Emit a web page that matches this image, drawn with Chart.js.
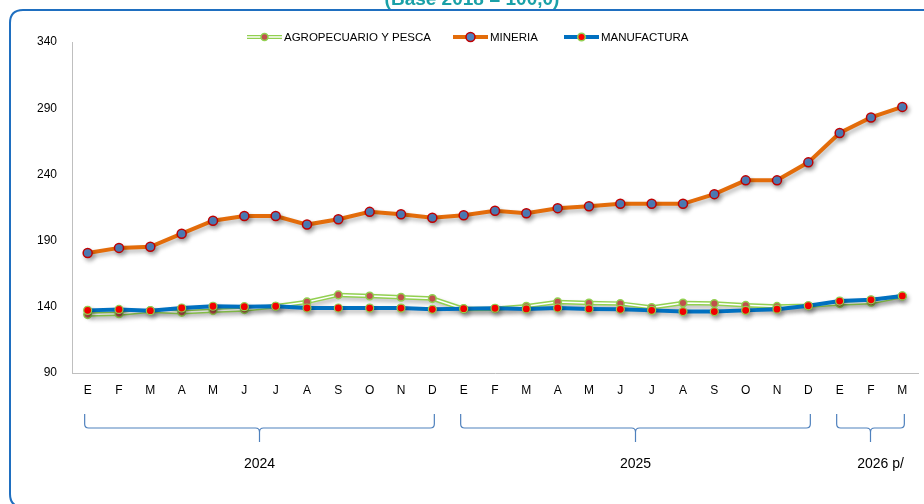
<!DOCTYPE html>
<html>
<head>
<meta charset="utf-8">
<script src="https://cdn.jsdelivr.net/npm/chart.js@4"></script>
<style>
  html, body { margin: 0; padding: 0; background: #ffffff; }
  #wrap { width: 924px; height: 504px; position: relative; }
  canvas { display: block; }
</style>
</head>
<body>
<div id="wrap"><canvas id="c" width="924" height="504"></canvas></div>
<script>
// ---- Data ----
const months = ['E','F','M','A','M','J','J','A','S','O','N','D',
                'E','F','M','A','M','J','J','A','S','O','N','D',
                'E','F','M'];
const yearLabels = ['2024', '2025', '2026 p/'];
const yearMonthCounts = [12, 12, 3];
const yTicks = [90, 140, 190, 240, 290, 340];
const titleText = '(Base 2018 = 100,0)';

const seriesNames = ['AGROPECUARIO Y PESCA', 'MINERIA', 'MANUFACTURA'];

const agropecuario = [134.1, 134.8, 137.1, 135.8, 137.1, 137.9, 140.4, 143.7, 149.0, 148.2, 147.2, 146.2,
                      138.4, 138.6, 140.4, 143.7, 142.9, 142.4, 139.5, 142.9, 142.4, 141.1, 140.3, 140.8,
                      142.4, 143.4, 148.2];
const mineria = [180.7, 184.5, 185.3, 195.2, 205.0, 208.6, 208.6, 202.1, 206.1, 211.7, 209.9, 207.2,
                 209.2, 212.5, 210.7, 214.5, 216.0, 217.8, 217.8, 217.8, 225.1, 235.5, 235.5, 249.1,
                 271.3, 283.0, 291.0];
const manufactura = [137.3, 138.0, 137.1, 139.1, 140.4, 140.1, 140.4, 139.1, 139.1, 139.0, 139.0, 138.1,
                     138.6, 138.9, 138.4, 139.1, 138.4, 138.1, 137.3, 136.4, 136.4, 137.3, 138.2, 140.8,
                     144.3, 145.3, 148.2];

// ---- Styles ----
const FONT = '"Liberation Sans", Arial, sans-serif';
const C = {
  agroLine: '#92D050', agroCenter: '#ffffff', agroFill: '#C0504D', agroBorder: '#92D050',
  minLine: '#E36C0A', minFill: '#4F81BD', minBorder: '#C00000',
  manLine: '#0070C0', manFill: '#FF0000', manBorder: '#92D050',
  axis: '#BFBFBF', brace: '#4F81BD', frame: '#1F6FC0', title: '#1AA0A8'
};

const shadowPlugin = {
  id: 'shadow',
  beforeDatasetDraw(chart, args) {
    const ctx = chart.ctx;
    ctx.save();
    if (!chart.data.datasets[args.index].noShadow) {
      ctx.shadowColor = 'rgba(0,0,0,0.28)';
      ctx.shadowBlur = 4;
      ctx.shadowOffsetX = 2;
      ctx.shadowOffsetY = 3;
    }
  },
  afterDatasetDraw(chart) { chart.ctx.restore(); }
};

const framePlugin = {
  id: 'frame',
  beforeDraw(chart) {
    const ctx = chart.ctx;
    ctx.save();
    ctx.fillStyle = '#fff';
    ctx.fillRect(0, 0, chart.width, chart.height);
    // rounded frame
    const x = 10, y = 10, w = 940, h = 497, r = 13;
    ctx.beginPath();
    ctx.moveTo(x + r, y);
    ctx.lineTo(x + w - r, y);
    ctx.quadraticCurveTo(x + w, y, x + w, y + r);
    ctx.lineTo(x + w, y + h - r);
    ctx.quadraticCurveTo(x + w, y + h, x + w - r, y + h);
    ctx.lineTo(x + r, y + h);
    ctx.quadraticCurveTo(x, y + h, x, y + h - r);
    ctx.lineTo(x, y + r);
    ctx.quadraticCurveTo(x, y, x + r, y);
    ctx.strokeStyle = C.frame;
    ctx.lineWidth = 2;
    ctx.stroke();
    // title (mostly cut off at the top)
    ctx.fillStyle = C.title;
    ctx.font = 'bold 19px ' + FONT;
    ctx.textAlign = 'center';
    ctx.textBaseline = 'alphabetic';
    ctx.fillText(titleText, 472, 5);
    ctx.restore();
  }
};

const legendPlugin = {
  id: 'customLegend',
  afterDraw(chart) {
    const ctx = chart.ctx;
    const xs = [247, 453, 564];
    const y = 37;
    const items = [
      {line: C.agroLine, lw: 4, center: C.agroCenter, fill: C.agroFill, border: C.agroBorder, r: 3.5},
      {line: C.minLine, lw: 4, center: null, fill: C.minFill, border: C.minBorder, r: 4.5},
      {line: C.manLine, lw: 4, center: null, fill: C.manFill, border: C.manBorder, r: 3.8}
    ];
    ctx.save();
    items.forEach((it, i) => {
      const x0 = xs[i], x1 = x0 + 35, xm = (x0 + x1) / 2;
      ctx.beginPath(); ctx.moveTo(x0, y); ctx.lineTo(x1, y);
      ctx.strokeStyle = it.line; ctx.lineWidth = it.lw; ctx.stroke();
      if (it.center) {
        ctx.beginPath(); ctx.moveTo(x0, y); ctx.lineTo(x1, y);
        ctx.strokeStyle = it.center; ctx.lineWidth = 1.5; ctx.stroke();
      }
      ctx.beginPath(); ctx.arc(xm, y, it.r, 0, Math.PI * 2);
      ctx.fillStyle = it.fill; ctx.fill();
      ctx.lineWidth = 1.5; ctx.strokeStyle = it.border; ctx.stroke();
      ctx.fillStyle = '#000';
      ctx.font = '11.5px ' + FONT;
      ctx.textAlign = 'left'; ctx.textBaseline = 'middle';
      ctx.fillText(seriesNames[i], x1 + 2, y + 1);
    });
    ctx.restore();
  }
};

const bracePlugin = {
  id: 'yearBraces',
  afterDraw(chart) {
    const ctx = chart.ctx;
    const xs = chart.scales.x;
    const yTop = 414, yMid = 428, yTip = 442, k = 4;
    let start = 0;
    ctx.save();
    yearMonthCounts.forEach((n, i) => {
      const xl = xs.getPixelForValue(start) - 3;
      const xr = xs.getPixelForValue(start + n - 1) + 2;
      const xc = (xl + xr) / 2;
      ctx.beginPath();
      ctx.moveTo(xl, yTop);
      ctx.lineTo(xl, yMid - k);
      ctx.quadraticCurveTo(xl, yMid, xl + k, yMid);
      ctx.lineTo(xc - k, yMid);
      ctx.quadraticCurveTo(xc, yMid, xc, yMid + k);
      ctx.lineTo(xc, yTip);
      ctx.moveTo(xc, yMid + k);
      ctx.quadraticCurveTo(xc, yMid, xc + k, yMid);
      ctx.lineTo(xr - k, yMid);
      ctx.quadraticCurveTo(xr, yMid, xr, yMid - k);
      ctx.lineTo(xr, yTop);
      ctx.strokeStyle = C.brace; ctx.lineWidth = 1.2; ctx.stroke();
      ctx.fillStyle = '#000';
      ctx.font = '14px ' + FONT;
      ctx.textAlign = 'center'; ctx.textBaseline = 'middle';
      const off = (i === yearMonthCounts.length - 1) ? 10 : 0;
      ctx.fillText(yearLabels[i], xc + off, 464);
      start += n;
    });
    ctx.restore();
  }
};

new Chart(document.getElementById('c'), {
  type: 'line',
  data: {
    labels: months,
    datasets: [
      { label: seriesNames[2], data: manufactura, order: 0,
        borderColor: C.manLine, borderWidth: 4, tension: 0,
        pointRadius: 4, pointBackgroundColor: C.manFill, pointBorderColor: C.manBorder, pointBorderWidth: 1.2 },
      { label: seriesNames[1], data: mineria, order: 1,
        borderColor: C.minLine, borderWidth: 4, tension: 0,
        pointRadius: 4.5, pointBackgroundColor: C.minFill, pointBorderColor: C.minBorder, pointBorderWidth: 1.5 },
      { label: seriesNames[0] + ' (centro)', data: agropecuario, order: 2, noShadow: true,
        borderColor: C.agroCenter, borderWidth: 1.5, tension: 0,
        pointRadius: 3.8, pointBackgroundColor: C.agroFill, pointBorderColor: C.agroBorder, pointBorderWidth: 1.5 },
      { label: seriesNames[0], data: agropecuario, order: 3,
        borderColor: C.agroLine, borderWidth: 4.5, tension: 0, pointRadius: 0 }
    ]
  },
  options: {
    responsive: false,
    animation: false,
    events: [],
    layout: { padding: { left: 0, right: 3, top: 42, bottom: 0 } },
    plugins: { legend: { display: false }, tooltip: { enabled: false }, title: { display: false } },
    scales: {
      x: {
        offset: true,
        grid: { display: false, drawTicks: false },
        border: { display: true, color: C.axis, width: 1 },
        ticks: { color: '#000', font: { family: FONT, size: 12 }, padding: 10, autoSkip: false, maxRotation: 0 },
        afterFit(s) { s.height = 131; }
      },
      y: {
        min: 90, max: 340,
        grid: { display: false, drawTicks: false },
        border: { display: true, color: C.axis, width: 1 },
        afterBuildTicks(s) { s.ticks = yTicks.map(v => ({ value: v })); },
        ticks: { color: '#000', font: { family: FONT, size: 12 }, padding: 15 },
        afterFit(s) { s.width = 72; }
      }
    }
  },
  plugins: [framePlugin, shadowPlugin, bracePlugin, legendPlugin]
});
</script>
</body>
</html>
